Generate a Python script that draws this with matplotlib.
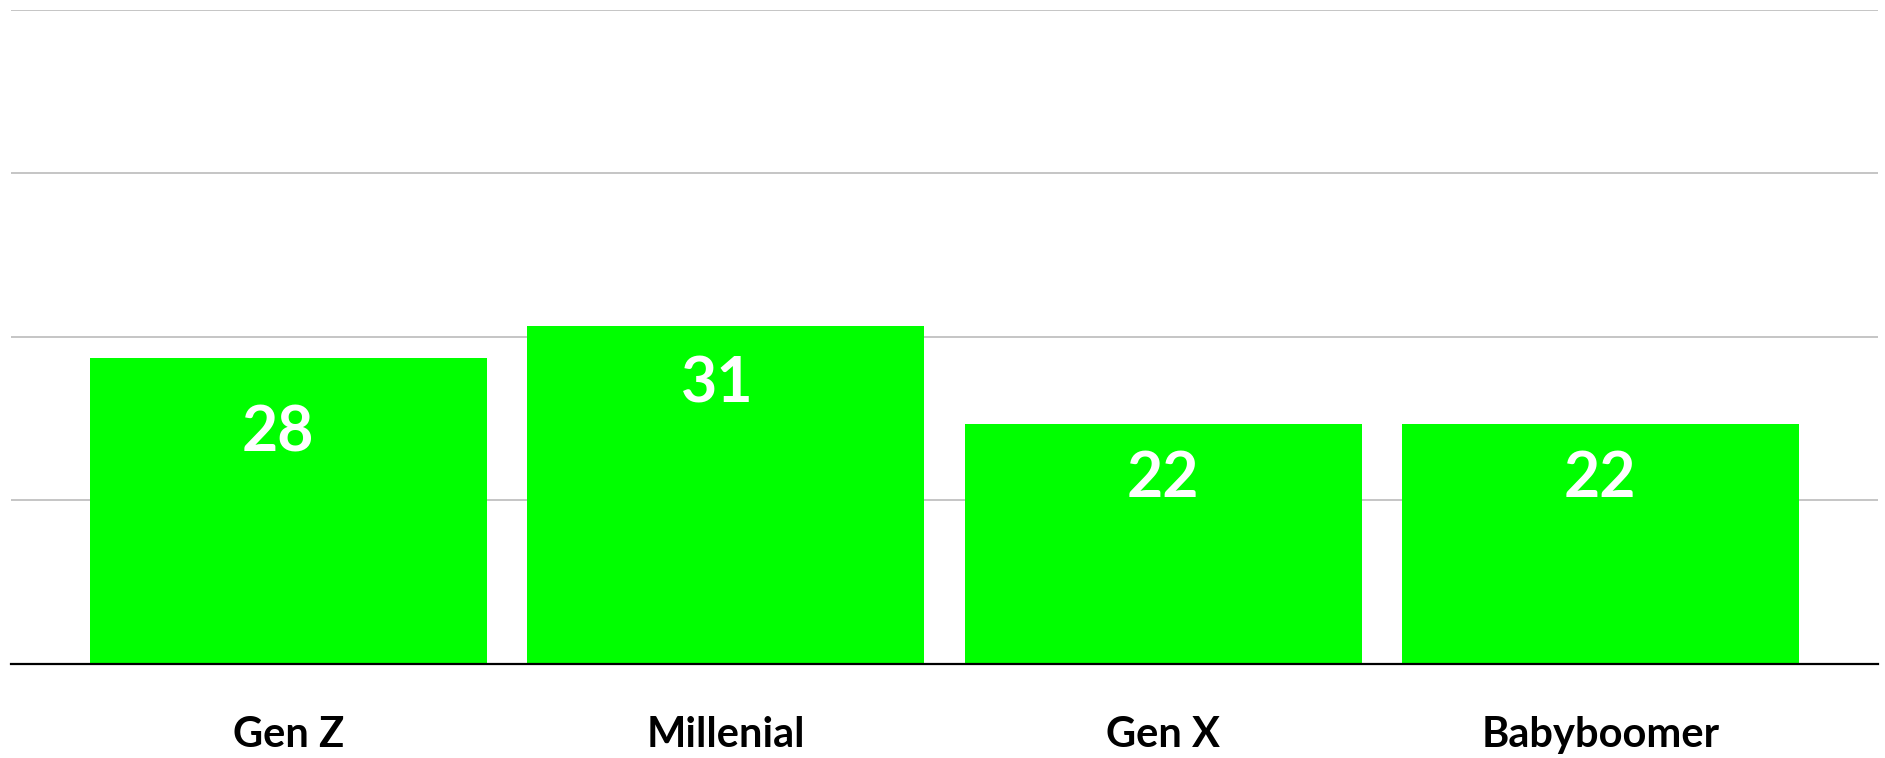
import matplotlib.pyplot as plt

# data
generaciones = ['Gen Z', 'Millenial', 'Gen X', 'Babyboomer']
porcentajes = [28, 31, 22, 22]
etiquetas = ['28', '31', '22', '22']
# offsets of each value label from its bar top (points)
desfaseY = [54, 42, 40, 40]
desfaseX = [-8, -6, 0, 0]

plt.rcParams['font.family'] = ['Lato', 'DejaVu Sans']

fig = plt.figure(figsize=(18.85, 7.58), dpi=100)
ax = fig.add_axes([11 / 1885, (758 - 663.6) / 758, (1878 - 11) / 1885, (663.6 - 9.6) / 758])

posiciones = range(len(generaciones))
ax.bar(posiciones, porcentajes, width=0.908, color='#00ff00', zorder=3)

for i, valor in enumerate(porcentajes):
    ax.annotate(etiquetas[i], (i, valor), xytext=(desfaseX[i], -desfaseY[i]),
                textcoords='offset points', ha='center', va='center',
                color='white', fontsize=45, fontweight='bold', zorder=4)

ax.set_xlim(-0.635, 3.635)
ax.set_ylim(0, 60)
ax.set_yticks([0, 15, 30, 45, 60])
ax.yaxis.grid(True, color='#bbbbbb', linewidth=1.2, zorder=0)
ax.tick_params(axis='y', left=False, labelleft=False)

ax.set_xticks(list(posiciones))
ax.set_xticklabels(generaciones, fontsize=30, fontweight='bold', color='black')
ax.tick_params(axis='x', bottom=False, pad=34)

for lado in ['top', 'left', 'right']:
    ax.spines[lado].set_visible(False)
ax.spines['bottom'].set_color('black')
ax.spines['bottom'].set_linewidth(1.6)
ax.spines['bottom'].set_zorder(5)

plt.savefig('out.png', dpi=100)
